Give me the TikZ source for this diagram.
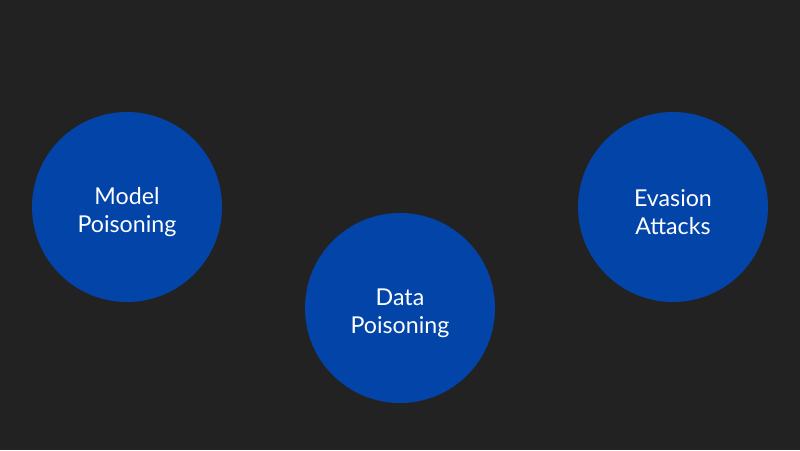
\documentclass[tikz,border=0pt]{standalone}
\usepackage{fontspec}
\setmainfont{Lato}
\definecolor{bg}{HTML}{222222}
\definecolor{disc}{HTML}{0344A9}
\begin{document}
\begin{tikzpicture}[x=1pt,y=-1pt,
  topic/.style={circle, fill=disc, minimum size=190pt, inner sep=0pt},
  caption/.style={text=white, font=\fontsize{23.2}{28}\selectfont, align=center, inner sep=0pt}]
\fill[bg] (0,0) rectangle (800,450);
\useasboundingbox (0,0) rectangle (800,450);
\node[topic] (model) at (127,207) {};
\node[topic] (data) at (400,308) {};
\node[topic] (evasion) at (673,207) {};
\node[caption, yshift=-5pt] (modeltext) at (model) {Model\\Poisoning};
\node[caption, yshift=-5pt] (datatext) at (data) {Data\\Poisoning};
\node[caption, yshift=-5pt] (evasiontext) at (evasion) {Evasion\\Attacks};
\end{tikzpicture}
\end{document}
